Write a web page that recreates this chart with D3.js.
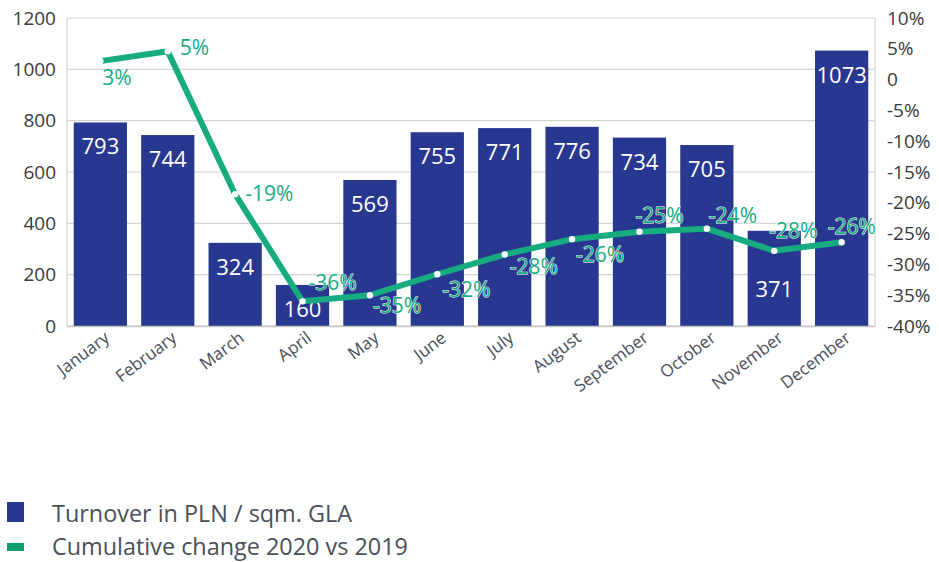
<!DOCTYPE html>
<html>
<head>
<meta charset="utf-8">
<script src="https://cdn.jsdelivr.net/npm/d3@7"></script>
<style>
  html, body { margin: 0; padding: 0; background: #fff; }
  svg { display: block; font-family: "Open Sans", sans-serif; }
</style>
</head>
<body>
<div id="chart"></div>
<script>
// Data
var months = ['January','February','March','April','May','June','July','August','September','October','November','December'];
var turnover = [793, 744, 324, 160, 569, 755, 771, 776, 734, 705, 371, 1073];
var change = [3.0, 4.6, -18.6, -36.0, -35.0, -31.6, -28.4, -25.9, -24.7, -24.2, -27.8, -26.4];
var leftTicks = [0, 200, 400, 600, 800, 1000, 1200];
var rightTicks = [10, 5, 0, -5, -10, -15, -20, -25, -30, -35, -40];
var legendLabels = ['Turnover in PLN / sqm. GLA', 'Cumulative change 2020 vs 2019'];

var width = 939, height = 562;
var blue = '#283891', green = '#17ab80', gridColor = '#d4d4d4', textColor = '#3a3a3a';

var svg = d3.select('#chart').append('svg')
    .attr('width', width)
    .attr('height', height);

// Scales
var x = d3.scaleBand().domain(months).range([67, 875]).paddingInner(0.21).paddingOuter(0.1);
var y = d3.scaleLinear().domain([0, 1200]).range([326, 18]);
var y2 = d3.scaleLinear().domain([-40, 10]).range([326, 18]);

// Gridlines
svg.append('g')
    .selectAll('line')
    .data(leftTicks)
    .enter().append('line')
    .attr('x1', 67).attr('x2', 875)
    .attr('y1', d => y(d)).attr('y2', d => y(d))
    .attr('stroke', gridColor).attr('stroke-width', 1.2);

// vertical frame lines
svg.append('line').attr('x1', 67).attr('x2', 67).attr('y1', 18).attr('y2', 326)
    .attr('stroke', gridColor).attr('stroke-width', 1.2);
svg.append('line').attr('x1', 875).attr('x2', 875).attr('y1', 18).attr('y2', 326)
    .attr('stroke', gridColor).attr('stroke-width', 1.2);

// Left axis
var yAxis = svg.append('g')
    .attr('transform', 'translate(56,0)')
    .call(d3.axisLeft(y).tickValues(leftTicks).tickSize(0).tickPadding(0).tickFormat(d3.format('d')));
yAxis.select('.domain').remove();
yAxis.selectAll('text')
    .attr('font-size', 19).attr('fill', textColor)
    .attr('font-family', '"Open Sans", sans-serif');

// Right axis
var y2Axis = svg.append('g')
    .attr('transform', 'translate(887,0)')
    .call(d3.axisRight(y2).tickValues(rightTicks).tickSize(0).tickPadding(0)
        .tickFormat(d => d === 0 ? '0' : d + '%'));
y2Axis.select('.domain').remove();
y2Axis.selectAll('text')
    .attr('font-size', 19).attr('fill', textColor)
    .attr('font-family', '"Open Sans", sans-serif');

// X axis labels
var xAxis = svg.append('g')
    .attr('transform', 'translate(0,330)')
    .call(d3.axisBottom(x).tickSize(0).tickPadding(0));
xAxis.select('.domain').remove();
xAxis.selectAll('text')
    .attr('font-size', 17).attr('fill', '#4a4f5a')
    .attr('font-family', '"Open Sans", sans-serif')
    .attr('text-anchor', 'end')
    .attr('dy', '0.6em')
    .attr('transform', 'translate(4,2) rotate(-37)');

// Bars
svg.selectAll('.bar')
    .data(turnover)
    .enter().append('rect')
    .attr('class', 'bar')
    .attr('x', (d, i) => x(months[i]))
    .attr('y', d => y(d))
    .attr('width', x.bandwidth())
    .attr('height', d => y(0) - y(d))
    .attr('fill', blue);

// baseline
svg.append('line').attr('x1', 67).attr('x2', 875).attr('y1', 326.5).attr('y2', 326.5)
    .attr('stroke', '#c4c4c4').attr('stroke-width', 1.5);

// Bar value labels
svg.selectAll('.barLabel')
    .data(turnover)
    .enter().append('text')
    .attr('class', 'barLabel')
    .attr('x', (d, i) => x(months[i]) + x.bandwidth() / 2)
    .attr('y', (d, i) => y(d) + (i === 10 ? 66 : 32))
    .attr('text-anchor', 'middle')
    .attr('font-size', 22)
    .attr('fill', '#ffffff')
    .text(d => d);

// Line
var cx = (d, i) => x(months[i]) + x.bandwidth() / 2;
var line = d3.line().x(cx).y(d => y2(d));
svg.append('path')
    .datum(change)
    .attr('d', line)
    .attr('fill', 'none')
    .attr('stroke', green)
    .attr('stroke-width', 6)
    .attr('stroke-linejoin', 'round');

svg.selectAll('.pt')
    .data(change)
    .enter().append('circle')
    .attr('class', 'pt')
    .attr('cx', cx)
    .attr('cy', d => y2(d))
    .attr('r', 3.2)
    .attr('fill', '#ffffff');

// Line labels (nudged like the original)
var nudge = [[2,24],[12,4],[10,7],[6,-11],[3,18],[5,23],[5,19],[4,23],[-4,-9],[2,-6],[-5,-13],[-14,-8]];
svg.selectAll('.ptLabel')
    .data(change)
    .enter().append('text')
    .attr('class', 'ptLabel')
    .attr('x', (d, i) => cx(d, i) + nudge[i][0])
    .attr('y', (d, i) => y2(d) + nudge[i][1])
    .attr('font-size', 21)
    .attr('fill', green)
    .attr('stroke', '#ffffff')
    .attr('stroke-width', 1)
    .attr('paint-order', 'stroke')
    .text(d => Math.round(d) + '%');

// Legend
var legend = svg.append('g');
legend.append('rect').attr('x', 7).attr('y', 502).attr('width', 17).attr('height', 20).attr('fill', blue);
legend.append('rect').attr('x', 7).attr('y', 543).attr('width', 17).attr('height', 8).attr('fill', '#0f9e70');
legend.selectAll('text')
    .data(legendLabels)
    .enter().append('text')
    .attr('x', 52)
    .attr('y', (d, i) => 522 + i * 33)
    .attr('font-size', 24)
    .attr('fill', '#4a4f5a')
    .attr('textLength', (d, i) => i === 0 ? 300 : 356)
    .attr('lengthAdjust', 'spacingAndGlyphs')
    .text(d => d);
</script>
</body>
</html>
